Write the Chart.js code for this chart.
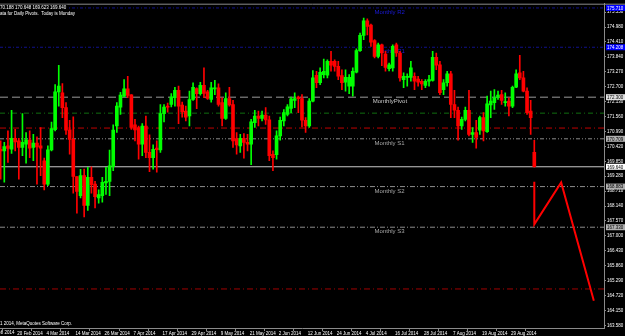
<!DOCTYPE html>
<html>
<head>
<meta charset="utf-8">
<script src="https://cdn.jsdelivr.net/npm/chart.js@4.4.1/dist/chart.umd.min.js"></script>
<style>
  html, body { margin: 0; padding: 0; background: #000; }
</style>
</head>
<body>
<canvas id="chart" width="625" height="336"></canvas>
<script>
// daily candles, oldest first
const opens = [170.31,170.25,170.44,170.31,170.73,170.63,170.38,170.50,170.66,170.38,170.55,170.44,169.87,168.98,170.28,171.06,172.50,172.47,171.90,171.05,
  170.69,169.27,168.54,169.30,168.16,169.24,168.98,168.45,168.54,169.02,169.08,169.65,171.20,171.92,172.34,172.62,172.39,171.24,171.14,170.50,
  171.20,170.19,169.99,170.35,170.28,171.67,171.96,172.02,172.28,172.56,172.00,171.77,171.58,172.21,172.63,172.43,172.75,172.50,172.21,172.62,
  172.66,172.09,171.49,172.25,172.02,170.72,170.44,170.73,170.57,170.50,171.33,171.58,171.49,171.62,171.43,170.12,170.10,170.82,171.39,171.64,
  171.87,172.18,172.30,172.25,171.42,171.20,172.15,173.14,172.85,173.16,173.14,173.67,173.67,173.48,173.13,172.87,172.72,172.72,173.26,174.08,
  174.66,175.22,175.06,174.46,173.86,174.30,173.95,173.39,173.42,174.30,173.99,172.97,173.06,173.06,173.10,172.99,172.91,172.75,172.91,172.94,
  173.82,173.54,172.59,172.85,173.19,172.02,171.80,171.20,171.45,171.80,170.88,170.95,171.04,171.52,170.98,172.00,172.09,172.30,172.40,172.09,
  172.15,171.96,172.68,173.23,173.04,172.53,171.77,170.188];
const highs = [170.63,170.57,171.01,171.80,171.07,170.73,171.67,170.95,171.01,170.88,170.78,171.14,169.97,170.44,171.35,172.78,173.52,172.82,172.09,171.42,
  171.55,169.27,169.54,169.55,169.62,169.64,169.08,168.76,169.24,169.62,170.28,171.24,172.09,172.49,172.97,173.10,172.40,171.45,171.20,171.29,
  171.58,170.86,170.48,170.63,172.02,172.02,172.07,172.44,172.68,172.72,172.11,171.96,172.53,172.85,172.66,172.87,173.42,172.56,172.87,172.94,
  172.81,172.28,172.47,172.68,172.18,170.95,170.88,170.91,170.88,171.45,171.80,171.77,171.77,171.90,171.58,170.25,171.01,171.54,171.83,172.02,
  172.30,172.47,172.34,172.40,171.52,172.25,173.32,173.29,173.42,173.76,173.73,174.05,173.73,173.67,173.35,173.35,173.16,173.42,174.15,174.75,
  175.32,175.29,175.09,174.50,174.37,174.33,174.05,173.60,174.30,174.37,174.05,173.23,173.19,173.67,173.23,173.10,172.97,172.97,173.14,174.05,
  173.99,173.67,172.97,173.29,173.29,172.56,171.92,171.54,171.92,172.56,171.14,171.42,171.58,171.71,172.34,172.53,172.59,172.53,172.56,172.47,
  172.28,172.72,173.35,173.90,173.29,172.66,172.18,170.648];
const lows = [169.17,169.05,169.81,170.15,170.25,169.17,170.06,169.78,169.99,169.87,168.98,169.30,168.76,168.92,170.25,171.01,171.96,171.52,170.88,170.12,
  168.63,167.87,168.45,167.72,167.97,168.63,168.07,168.25,168.29,168.58,168.54,169.49,170.95,171.64,172.31,172.28,171.07,170.63,169.93,170.06,
  169.99,169.45,169.55,169.43,170.19,171.35,171.73,171.93,171.96,171.29,171.54,171.39,171.20,172.18,171.86,172.38,172.28,172.21,172.11,172.40,
  171.96,171.20,171.45,171.96,170.38,170.12,170.19,169.97,170.25,169.72,171.14,171.20,171.39,171.26,169.87,169.49,169.93,170.66,171.20,171.58,
  171.71,171.90,171.71,171.16,170.95,171.14,172.12,172.66,172.78,173.04,173.04,173.29,173.29,172.97,172.59,172.53,172.43,172.34,173.23,174.05,
  174.50,174.68,174.24,173.80,173.80,173.50,173.29,173.30,173.29,173.86,172.91,172.66,172.72,172.91,172.59,172.72,172.59,172.66,172.72,172.91,
  173.35,172.40,172.40,172.72,171.52,171.52,170.66,171.07,171.39,170.82,170.57,170.35,170.88,170.63,170.95,171.52,171.83,172.21,172.02,171.96,
  171.58,171.90,172.66,172.97,172.50,171.64,170.88,169.623];
const closes = [170.25,170.41,170.34,170.73,170.59,170.38,170.57,170.67,170.35,170.55,170.40,170.35,168.98,170.29,171.10,172.50,172.72,171.90,171.04,170.69,
  169.27,168.70,169.30,168.16,169.24,168.96,168.50,168.58,169.05,169.08,169.68,171.04,171.96,172.38,172.62,172.37,171.14,171.05,170.50,171.20,
  170.19,169.99,170.31,170.29,171.67,171.92,171.92,172.30,172.56,171.96,171.74,171.54,172.21,172.68,172.43,172.75,172.44,172.25,172.66,172.66,
  172.02,171.49,172.25,172.00,170.63,170.48,170.73,170.57,170.50,171.36,171.58,171.49,171.62,171.43,170.06,169.99,170.82,171.42,171.71,171.93,
  172.24,172.25,172.24,171.42,171.20,172.15,173.04,172.85,173.25,173.29,173.67,173.52,173.48,173.10,172.85,173.06,173.06,173.29,174.08,174.66,
  175.22,175.00,174.40,173.86,174.30,173.99,173.44,173.54,174.24,173.99,173.04,173.10,173.10,173.42,172.91,172.87,172.81,172.91,172.97,173.82,
  173.52,172.47,172.85,173.19,172.02,171.80,171.20,171.45,171.80,170.88,170.95,170.76,171.52,171.01,172.05,172.15,172.28,172.38,172.18,172.12,
  171.96,172.68,173.19,173.04,172.53,171.71,171.52,169.640];

// date labels on the time axis and the bar each one sits on
const dateLabels = ['20 Feb 2014','4 Mar 2014','14 Mar 2014','26 Mar 2014','7 Apr 2014','17 Apr 2014','29 Apr 2014','9 May 2014','21 May 2014',
  '2 Jun 2014','12 Jun 2014','24 Jun 2014','4 Jul 2014','16 Jul 2014','28 Jul 2014','7 Aug 2014','19 Aug 2014','29 Aug 2014'];
const dateBars = [5,13,21,29,37,45,53,61,69,77,85,93,101,109,117,125,133,141];
const firstDateLabel = '10 Feb 2014';

// price scale ticks
const priceTicks = [175.550,174.980,174.410,173.840,173.270,172.700,172.130,171.560,170.990,170.420,169.850,
  169.280,168.710,168.140,167.570,167.000,166.430,165.860,165.290,164.720,164.150,163.580];

// horizontal levels (monthly pivots, extra lines, bid)
const levelValues = [175.710, 174.208, 172.300, 171.690, 171.120, 170.709, 169.640, 168.883, 167.330, 164.970];
const levelNames = ['Monthly R2', 'Monthly R1', 'MonthlyPivot', '', '', 'Monthly S1', '', 'Monthly S2', 'Monthly S3', ''];

// red projection zigzag
const zigzagBars = [147, 147, 154.4, 163.4];
const zigzagPrices = [169.07, 167.44, 169.04, 164.52];

const headerLines = ['70.188 170.648 169.623 169.640', 'ata for Daily Pivots.  Today is Monday'];
const footerText = '1 2014, MetaQuotes Software Corp.';

const FONT = 'Arial, "Liberation Sans", sans-serif';
const X_MIN = -0.185, X_MAX = 166.2;
const Y_MIN = 163.478, Y_MAX = 175.873;

const levelStyles = [
  { color: '#10108c', dash: [3, 2, 1, 2], text: '#1a1ad8', box: '#0000ff', boxText: '#ffffff' },
  { color: '#10108c', dash: [3, 2, 1, 2], text: '#1a1ad8', box: '#0000ff', boxText: '#ffffff' },
  { color: '#9a9a9a', dash: [8, 4], text: '#c8c8c8', box: '#e0e0e0', boxText: '#000000' },
  { color: '#106e10', dash: [5, 3, 1, 3] },
  { color: '#c00000', dash: [6, 3, 1, 3] },
  { color: '#8c8c8c', dash: [4, 2, 1, 2, 1, 2], text: '#a8a8a8', box: '#b0b0b0', boxText: '#000000' },
  { color: '#c8c8c8', dash: [], box: '#ffffff', boxText: '#000000' },
  { color: '#8c8c8c', dash: [5, 2, 1, 2], text: '#a8a8a8', box: '#b0b0b0', boxText: '#000000' },
  { color: '#8c8c8c', dash: [5, 2, 1, 2], text: '#a8a8a8', box: '#b0b0b0', boxText: '#000000' },
  { color: '#a00000', dash: [6, 3, 1, 3] }
];

const UP = '#00ff00', DOWN = '#ff0000';
const candleColors = opens.map((o, i) => closes[i] >= o ? UP : DOWN);

const datasets = [];

datasets.push({
  type: 'line',
  data: zigzagBars.map((b, i) => ({ x: b, y: zigzagPrices[i] })),
  borderColor: '#ff0000',
  borderWidth: 2,
  pointRadius: 0,
  tension: 0,
  order: 0
});

datasets.push({
  type: 'bar',
  data: opens.map((o, i) => ({ x: i, y: [o, closes[i]] })),
  backgroundColor: candleColors,
  barThickness: 3,
  minBarLength: 1,
  grouped: false,
  order: 1
});

datasets.push({
  type: 'bar',
  data: highs.map((h, i) => ({ x: i, y: [lows[i], h] })),
  backgroundColor: candleColors,
  barThickness: 1,
  grouped: false,
  order: 2
});

levelValues.forEach((v, k) => {
  datasets.push({
    type: 'line',
    data: [{ x: X_MIN, y: v }, { x: X_MAX, y: v }],
    borderColor: levelStyles[k].color,
    borderDash: levelStyles[k].dash,
    borderWidth: 1,
    pointRadius: 0,
    order: 3
  });
});

const labelBar = 103;

const mt4Plugin = {
  id: 'mt4',
  beforeDraw(chart) {
    const ctx = chart.ctx;
    ctx.save();
    ctx.fillStyle = '#000';
    ctx.fillRect(0, 0, chart.width, chart.height);
    ctx.restore();
  },
  beforeDatasetsDraw(chart) {
    const ctx = chart.ctx, xs = chart.scales.x, ys = chart.scales.y;
    ctx.save();
    ctx.font = '6px ' + FONT;
    ctx.textBaseline = 'top';
    ctx.textAlign = 'left';
    levelNames.forEach((name, k) => {
      if (!name) return;
      ctx.fillStyle = levelStyles[k].text;
      const px = xs.getPixelForValue(k === 2 ? labelBar - 0.5 : labelBar);
      ctx.fillText(name, px, ys.getPixelForValue(levelValues[k]) + 1.5);
    });
    ctx.restore();
  },
  afterDraw(chart) {
    const ctx = chart.ctx, xs = chart.scales.x, ys = chart.scales.y, area = chart.chartArea;
    ctx.save();
    // window top border
    ctx.strokeStyle = '#8a8a8a';
    ctx.lineWidth = 1;
    ctx.beginPath();
    ctx.moveTo(0, area.top + 0.5);
    ctx.lineTo(chart.width, area.top + 0.5);
    ctx.stroke();

    // header text
    ctx.font = '4.5px ' + FONT;
    ctx.textBaseline = 'middle';
    ctx.textAlign = 'left';
    headerLines.forEach((t, i) => {
      const w = ctx.measureText(t).width;
      ctx.fillStyle = '#000';
      ctx.fillRect(0, area.top + 1 + i * 6.5, w + 1, 6);
      ctx.fillStyle = '#ffffff';
      ctx.fillText(t, 0, area.top + 4 + i * 6.5);
    });
    ctx.fillText(footerText, 0, area.bottom - 4);

    // clipped first date on the time axis
    ctx.fillStyle = '#ffffff';
    ctx.textBaseline = 'top';
    ctx.fillText(firstDateLabel, xs.getPixelForValue(dateBars[0] - 8 - 0.4) + 1, area.bottom + 3);

    // price boxes on the right scale
    ctx.font = '4.5px ' + FONT;
    ctx.textBaseline = 'middle';
    levelValues.forEach((v, k) => {
      const st = levelStyles[k];
      if (!st.box) return;
      const py = ys.getPixelForValue(v);
      ctx.fillStyle = st.box;
      ctx.fillRect(area.right + 2, py - 3, chart.width - area.right - 2, 6);
      ctx.fillStyle = st.boxText;
      ctx.fillText(v.toFixed(3), area.right + 3, py + 0.5);
    });
    ctx.restore();
  }
};

new Chart(document.getElementById('chart'), {
  type: 'bar',
  data: { datasets: datasets },
  options: {
    responsive: false,
    animation: false,
    events: [],
    layout: { padding: { top: 2, left: 0, right: 0, bottom: 0 } },
    plugins: { legend: { display: false }, tooltip: { enabled: false } },
    scales: {
      x: {
        type: 'linear',
        position: 'bottom',
        min: X_MIN,
        max: X_MAX,
        offset: false,
        grid: { drawOnChartArea: false, drawTicks: true, tickLength: 3, color: '#8a8a8a' },
        border: { color: '#8a8a8a' },
        ticks: {
          color: '#ffffff',
          font: { size: 4.5, family: FONT },
          align: 'start',
          padding: 0,
          maxRotation: 0,
          autoSkip: false,
          callback: (value, index) => dateLabels[index]
        },
        afterBuildTicks: (scale) => { scale.ticks = dateBars.map(b => ({ value: b - 0.4 })); },
        afterFit: (scale) => { scale.height = 8; }
      },
      y: {
        type: 'linear',
        position: 'right',
        min: Y_MIN,
        max: Y_MAX,
        grid: { drawOnChartArea: false, drawTicks: true, tickLength: 2, color: '#8a8a8a' },
        border: { color: '#8a8a8a' },
        ticks: {
          color: '#ffffff',
          font: { size: 4.5, family: FONT },
          padding: 1,
          autoSkip: false,
          callback: (value) => Number(value).toFixed(3)
        },
        afterBuildTicks: (scale) => { scale.ticks = priceTicks.map(v => ({ value: v })); },
        afterFit: (scale) => { scale.width = 21; }
      }
    }
  },
  plugins: [mt4Plugin]
});
</script>
</body>
</html>
